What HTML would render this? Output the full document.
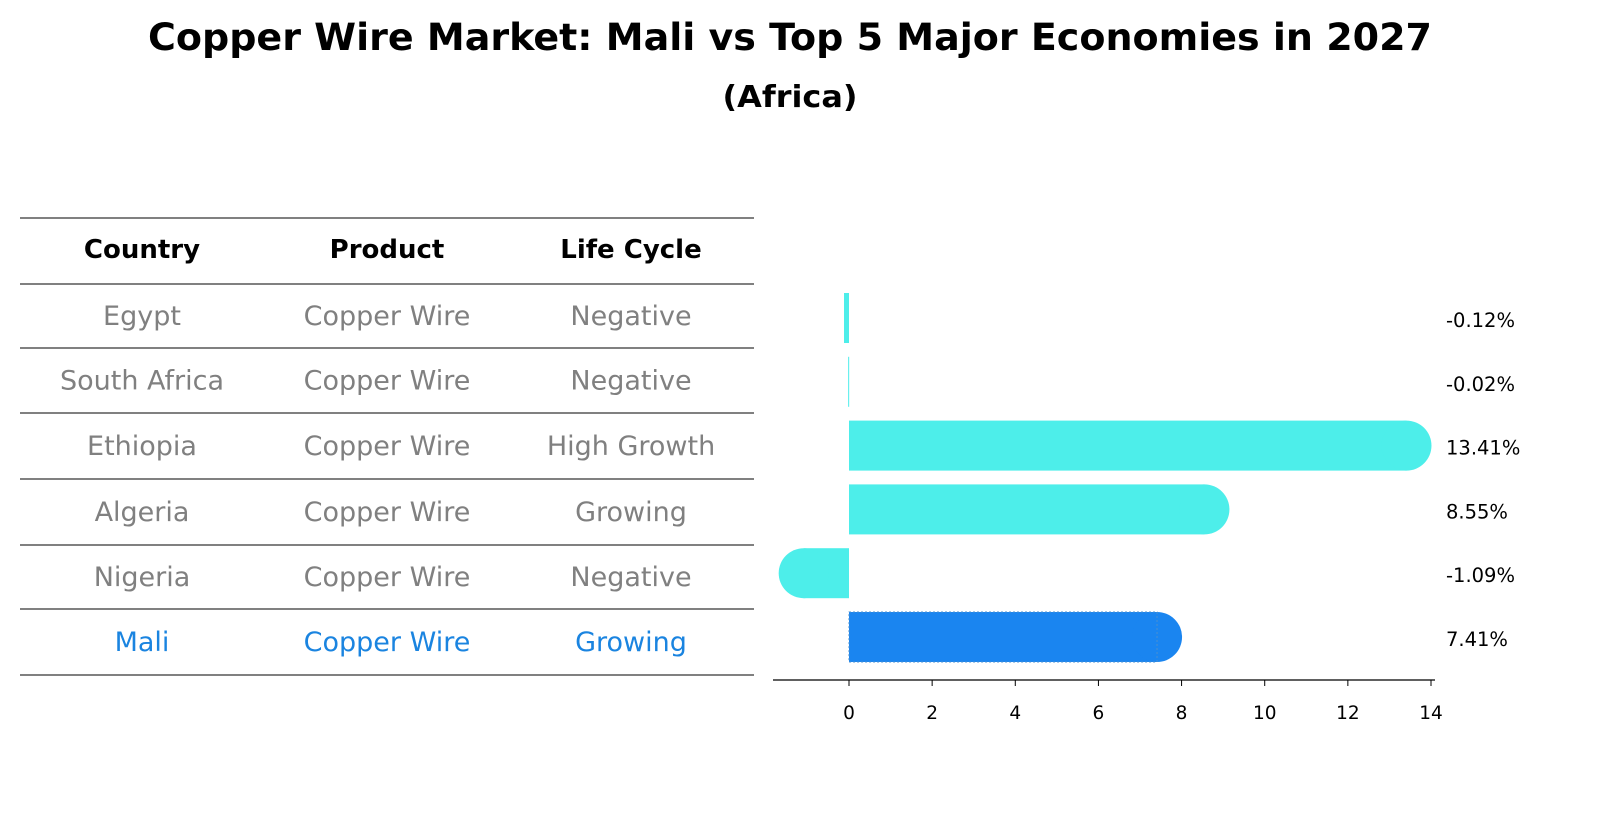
<!DOCTYPE html>
<html><head><meta charset="utf-8"><style>
body{margin:0;background:#fff;font-family:"Liberation Sans","DejaVu Sans",sans-serif;}
</style></head><body>
<svg width="1604" height="823" viewBox="0 0 1604 823" xmlns="http://www.w3.org/2000/svg" font-family="DejaVu Sans, Liberation Sans, sans-serif">
<text x="790" y="50" text-anchor="middle" font-size="37" font-weight="bold" textLength="1284" lengthAdjust="spacingAndGlyphs">Copper Wire Market: Mali vs Top 5 Major Economies in 2027</text>
<text x="790" y="107" text-anchor="middle" font-size="30" font-weight="bold" textLength="135" lengthAdjust="spacingAndGlyphs">(Africa)</text>
<g id="table"></g>
<g id="bars"></g>
</svg>
<script>
const countries=["Egypt","South Africa","Ethiopia","Algeria","Nigeria","Mali"];
const products=["Copper Wire","Copper Wire","Copper Wire","Copper Wire","Copper Wire","Copper Wire"];
const lifeCycles=["Negative","Negative","High Growth","Growing","Negative","Growing"];
const values=[-0.12,-0.02,13.41,8.55,-1.09,7.41];
const valueLabels=["-0.12%","-0.02%","13.41%","8.55%","-1.09%","7.41%"];
const ticks=[0,2,4,6,8,10,12,14];
const NS="http://www.w3.org/2000/svg";
function mk(tag,attrs,parent,text){const e=document.createElementNS(NS,tag);for(const k in attrs)e.setAttribute(k,attrs[k]);if(text!==undefined)e.textContent=text;parent.appendChild(e);return e;}
const X=v=>849+v*(1431-849)/14;
const rowY=i=>318+i*63.8;
const tbl=document.getElementById('table');
const lines=[218,284,348,413,479,545,609,675];
lines.forEach((y,i)=>{const l=mk('line',{x1:20,x2:754,y1:y,y2:y,stroke:'#000','stroke-width':1},tbl);

});
const cols=[142,387,631];
["Country","Product","Life Cycle"].forEach((h,j)=>{const t=mk('text',{x:cols[j],y:258,'text-anchor':'middle','font-size':26,'font-weight':'bold'},tbl,h);

});
countries.forEach((c,i)=>{const y=(lines[i+1]+lines[i+2])/2+9;const col=i===5?'#1a84e0':'#808080';
[c,products[i],lifeCycles[i]].forEach((v,j)=>{const t=mk('text',{x:cols[j],y:y,'text-anchor':'middle','font-size':27,fill:col},tbl,v);

});});
const g=document.getElementById('bars');
values.forEach((v,i)=>{const y=rowY(i);const h=50;const col=i===5?'#1a85f0':'#4deeea';
const x0=Math.min(X(0),X(v)),w=Math.abs(X(v)-X(0));
const r=mk('rect',{x:x0,y:y-h/2,width:Math.max(w,1),height:h,fill:col},g);


if(w>=25){const c=mk('circle',{cx:X(v),cy:y,r:25,fill:col},g);

}
if(i===5){const o=mk('rect',{x:x0,y:y-h/2,width:w,height:h,fill:'none',stroke:'#4a90d0','stroke-dasharray':'2,2','stroke-width':1},g);

}
const t=mk('text',{x:1446,y:y+9,'font-size':19.5},g,valueLabels[i]);

});
const ax=mk('line',{x1:773,x2:1435,y1:680,y2:680,stroke:'#000','stroke-width':1.2},g);


ticks.forEach(tv=>{const tk=mk('line',{x1:X(tv),x2:X(tv),y1:680,y2:686,stroke:'#000','stroke-width':1},g);


const t=mk('text',{x:X(tv),y:719,'text-anchor':'middle','font-size':18.5},g,String(tv));

});
</script>
</body></html>
